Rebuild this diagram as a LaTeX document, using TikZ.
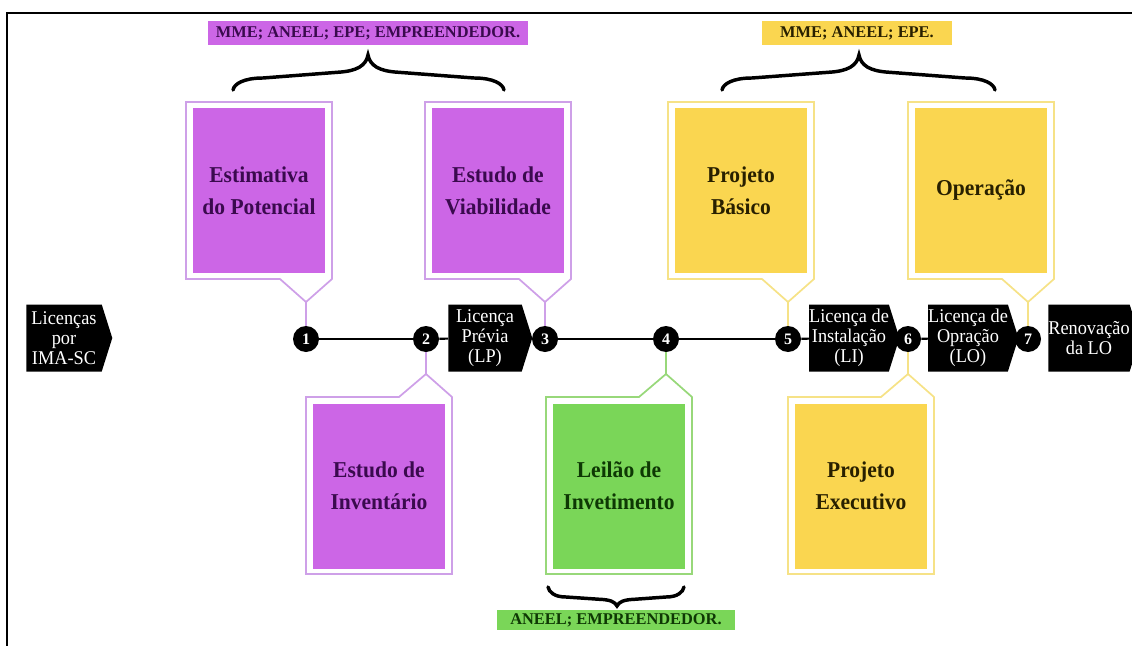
\documentclass[tikz,border=0pt]{standalone}
\usepackage{fontspec}
\setmainfont{Liberation Serif}
\newfontfamily\flagfont[FakeStretch=0.94]{Liberation Serif}
\newfontfamily\stagefont[FakeStretch=0.95]{Liberation Serif}
\usetikzlibrary{shapes.symbols}

\definecolor{pfill}{RGB}{204,102,230}
\definecolor{pline}{RGB}{206,160,232}
\definecolor{ptext}{RGB}{58,10,78}
\definecolor{yfill}{RGB}{250,214,80}
\definecolor{yline}{RGB}{246,226,135}
\definecolor{ytext}{RGB}{40,32,0}
\definecolor{gfill}{RGB}{122,214,88}
\definecolor{gline}{RGB}{152,216,122}
\definecolor{gtext}{RGB}{14,56,4}

\def\u{0.75pt}

% curly brace: x-left, x-right, x-tip, y-ends, y-run, y-tip, hook length
\newcommand\drawbrace[7]{%
  \draw[bracestroke] (#1,#4)
    .. controls ({#1+1},{#5+0.5*(#4-#5)}) and ({#1+0.35*#7},#5) .. ({#1+#7},#5)
    -- ({#3-#7},{#5+0.25*(#6-#5)})
    .. controls ({#3-0.35*#7},{#5+0.3*(#6-#5)}) and ({#3-2},{#6+0.45*(#5-#6)}) .. (#3,#6)
    .. controls ({#3+2},{#6+0.45*(#5-#6)}) and ({#3+0.35*#7},{#5+0.3*(#6-#5)}) .. ({#3+#7},{#5+0.25*(#6-#5)})
    -- ({#2-#7},#5)
    .. controls ({#2-0.35*#7},#5) and ({#2-1},{#5+0.5*(#4-#5)}) .. (#2,#4);}

\begin{document}
\begin{tikzpicture}[x=0.75pt,y=-0.75pt,
  dot/.style={circle,fill=black,text=white,minimum size=26*\u,inner sep=0pt,
    font=\fontsize{12pt}{13pt}\selectfont\bfseries},
  flag/.style={signal,signal to=east,signal pointer angle=145,fill=black,text=white,
    minimum height=67*\u,inner sep=0pt,align=center,
    font=\flagfont\fontsize{14.6pt}{15pt}\selectfont},
  stage/.style={minimum width=132*\u,minimum height=165*\u,inner sep=0pt,align=center,
    font=\stagefont\fontsize{17pt}{24pt}\selectfont\bfseries},
  tag/.style={minimum height=24*\u,inner sep=0pt,
    font=\fontsize{12.3pt}{14pt}\selectfont\bfseries},
  outline/.style={line width=1.3pt,line join=miter},
  timeline/.style={line width=1.6pt},
  bracestroke/.style={line width=2.6pt,line cap=round}]
\useasboundingbox (0,0) rectangle (1132,646);

% frame
\draw[line width=1.5pt] (7,646) -- (7,13) -- (1132,13);

% milestones
\foreach \n/\x in {1/306,2/426,3/545,4/666,5/788,6/908,7/1028}
  \node[dot] (c\n) at (\x,339) {\n};

% licence arrows
\node[flag,minimum width=86*\u] (imasc) at (64,338) {Licenças\\por\\IMA-SC};
\node[flag,minimum width=84*\u] (lp) at (485,338) {Licença\\Prévia\\(LP)};
\node[flag,minimum width=88*\u] (li) at (849,338) {Licença de\\Instalação\\(LI)};
\node[flag,minimum width=87*\u] (lo) at (968,338) {Licença de\\Opração\\(LO)};
\node[flag,minimum width=82*\u] (ren) at (1089,338) {Renovação\\da LO};

% timeline
\draw[timeline] (c1) -- (c2);
\draw[timeline] (c2) -- (lp);
\draw[timeline] (lp) -- (c3);
\draw[timeline] (c3) -- (c4);
\draw[timeline] (c4) -- (c5);
\draw[timeline] (c5) -- (li);
\draw[timeline] (li) -- (c6);
\draw[timeline] (c6) -- (lo);
\draw[timeline] (lo) -- (c7);

% upper stages
\draw[outline,pline] (186,102) -- (332,102) -- (332,279) -- (306,302) coordinate (t1)
  -- (280,279) -- (186,279) -- cycle;
\draw[outline,pline] (t1) -- (c1);
\node[stage,fill=pfill,text=ptext] (est) at (259,190.5) {Estimativa\\do Potencial};

\draw[outline,pline] (425,102) -- (571,102) -- (571,279) -- (545,302) coordinate (t3)
  -- (519,279) -- (425,279) -- cycle;
\draw[outline,pline] (t3) -- (c3);
\node[stage,fill=pfill,text=ptext] (via) at (498,190.5) {Estudo de\\Viabilidade};

\draw[outline,yline] (668,102) -- (814,102) -- (814,279) -- (788,302) coordinate (t5)
  -- (762,279) -- (668,279) -- cycle;
\draw[outline,yline] (t5) -- (c5);
\node[stage,fill=yfill,text=ytext] (pb) at (741,190.5) {Projeto\\Básico};

\draw[outline,yline] (908,102) -- (1054,102) -- (1054,279) -- (1028,302) coordinate (t7)
  -- (1002,279) -- (908,279) -- cycle;
\draw[outline,yline] (t7) -- (c7);
\node[stage,fill=yfill,text=ytext] (op) at (981,190.5) {Operação};

% lower stages
\draw[outline,pline] (306,397) -- (399,397) -- (426,374) coordinate (t2)
  -- (452,397) -- (452,574) -- (306,574) -- cycle;
\draw[outline,pline] (t2) -- (c2);
\node[stage,fill=pfill,text=ptext] (inv) at (379,486) {Estudo de\\Inventário};

\draw[outline,gline] (546,397) -- (639,397) -- (666,374) coordinate (t4)
  -- (692,397) -- (692,574) -- (546,574) -- cycle;
\draw[outline,gline] (t4) -- (c4);
\node[stage,fill=gfill,text=gtext] (lei) at (619,486) {Leilão de\\Invetimento};

\draw[outline,yline] (788,397) -- (881,397) -- (908,374) coordinate (t6)
  -- (934,397) -- (934,574) -- (788,574) -- cycle;
\draw[outline,yline] (t6) -- (c6);
\node[stage,fill=yfill,text=ytext] (pe) at (861,486) {Projeto\\Executivo};

% responsible bodies
\drawbrace{233}{504}{368}{90}{78}{55}{30}
\node[tag,fill=pfill,text=ptext,minimum width=320*\u] (bodyA) at (368,33) {MME; ANEEL; EPE; EMPREENDEDOR.};

\drawbrace{722}{995}{859}{90}{78}{55}{30}
\node[tag,fill=yfill,text=ytext,minimum width=190*\u] (bodyB) at (857,33) {MME; ANEEL; EPE.};

\drawbrace{548}{684}{617}{587}{597}{606}{18}
\node[tag,fill=gfill,text=gtext,minimum width=238*\u,minimum height=20*\u] (bodyC) at (616,620) {ANEEL; EMPREENDEDOR.};
\end{tikzpicture}
\end{document}
